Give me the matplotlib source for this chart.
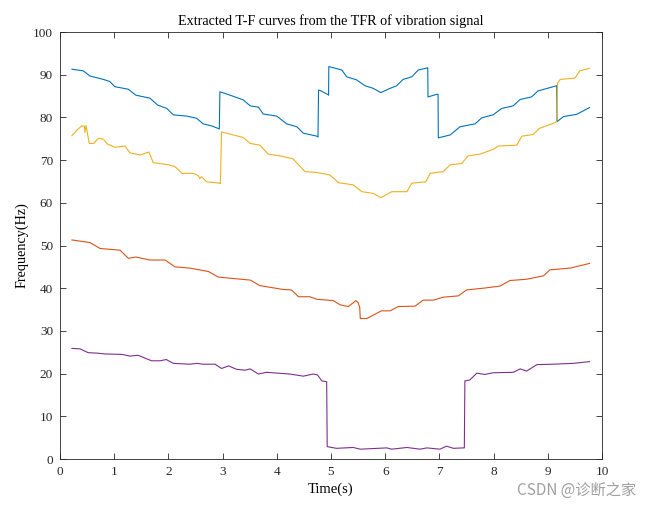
import matplotlib
matplotlib.use("Agg")
import matplotlib.pyplot as plt

# ---- data ----
blue_t = [0.22, 0.43, 0.55, 0.80, 0.92, 1.01, 1.26, 1.40, 1.66, 1.80, 1.97, 2.09, 2.34, 2.52, 2.64, 2.80, 2.94,
          2.95, 3.14, 3.38, 3.51, 3.66, 3.75, 4.00, 4.18, 4.37, 4.49, 4.74, 4.76,
          4.77, 4.80, 4.95, 4.955,
          4.96, 5.20, 5.29, 5.47, 5.63, 5.78, 5.92, 6.09, 6.21, 6.33, 6.49, 6.61, 6.78, 6.785,
          6.79, 6.95, 6.975,
          6.98, 7.20, 7.38, 7.66, 7.78, 7.99, 8.15, 8.36, 8.49, 8.70, 8.82, 9.16, 9.165,
          9.17, 9.29, 9.53, 9.77]
blue_f = [91.3, 90.9, 89.7, 88.9, 88.4, 87.2, 86.6, 85.2, 84.5, 82.9, 82.1, 80.6, 80.3, 79.8, 78.5, 78.0, 77.3,
          86.0, 85.2, 84.1, 82.7, 82.4, 80.8, 80.3, 78.5, 77.8, 76.3, 75.6, 75.4,
          86.4, 86.3, 85.3, 85.2,
          91.9, 91.1, 89.5, 88.8, 87.4, 86.8, 85.8, 86.8, 87.4, 88.9, 89.5, 91.1, 91.6, 91.6,
          84.8, 85.4, 85.4,
          75.2, 75.9, 77.8, 78.5, 79.9, 80.6, 82.1, 82.7, 84.2, 84.8, 86.2, 87.4, 87.4,
          79.0, 80.2, 80.7, 82.3]

yellow_t = [0.22, 0.31, 0.40, 0.45, 0.46, 0.48, 0.54, 0.62, 0.71, 0.80, 0.87, 1.01, 1.20, 1.29, 1.48, 1.64,
            1.72, 2.00, 2.12, 2.25, 2.46, 2.55, 2.58, 2.61, 2.71, 2.95, 2.96,
            2.98, 3.38, 3.51, 3.69, 3.84, 4.06, 4.30, 4.52, 4.74, 4.98, 5.14, 5.41, 5.57, 5.78, 5.92,
            6.12, 6.40, 6.49, 6.75, 6.83, 7.07, 7.20, 7.41, 7.53, 7.75, 7.99, 8.09, 8.43, 8.52, 8.73,
            8.84, 9.10, 9.165,
            9.18, 9.23, 9.50, 9.59, 9.77]
yellow_f = [75.7, 77.0, 78.0, 78.0, 76.5, 78.1, 73.9, 73.9, 75.1, 74.9, 73.8, 73.0, 73.3, 71.7, 71.2, 71.9,
            69.4, 68.9, 68.5, 66.9, 66.9, 66.4, 65.7, 66.1, 64.9, 64.6, 64.5,
            76.6, 75.3, 73.9, 73.5, 71.4, 71.0, 70.3, 67.3, 67.1, 66.5, 64.7, 64.2, 62.6, 62.2, 61.2,
            62.6, 62.6, 64.6, 64.9, 66.9, 67.3, 68.9, 69.2, 71.0, 71.4, 72.5, 73.3, 73.5, 75.6, 76.0,
            77.4, 78.6, 79.0,
            88.0, 88.9, 89.2, 90.9, 91.5]

red_t = [0.22, 0.55, 0.74, 1.11, 1.26, 1.40, 1.51, 1.66, 1.94, 2.12, 2.40, 2.74, 2.92, 3.17, 3.51, 3.69,
         4.12, 4.27, 4.40, 4.61, 4.74, 5.04, 5.17, 5.32, 5.46, 5.50, 5.53, 5.54, 5.66, 5.84, 5.93,
         6.09, 6.24, 6.55, 6.70, 6.89, 7.07, 7.35, 7.50, 7.81, 8.12, 8.30, 8.61, 8.92, 9.04, 9.41, 9.77]
red_f = [51.3, 50.7, 49.3, 48.9, 47.0, 47.3, 47.0, 46.6, 46.6, 45.0, 44.7, 43.9, 42.6, 42.3, 41.9, 40.6,
         39.7, 39.6, 38.0, 38.0, 37.4, 37.1, 36.1, 35.7, 37.1, 36.6, 35.5, 32.9, 32.9, 34.1, 34.7,
         34.7, 35.7, 35.8, 37.2, 37.2, 37.9, 38.2, 39.6, 40.0, 40.5, 41.8, 42.1, 42.9, 44.3, 44.7, 45.8]

purple_t = [0.22, 0.37, 0.52, 0.68, 0.83, 1.14, 1.29, 1.44, 1.69, 1.85, 1.96, 2.09, 2.40, 2.52, 2.64,
            2.86, 2.98, 3.11, 3.26, 3.41, 3.51, 3.66, 3.81, 4.24, 4.49, 4.67, 4.75, 4.83, 4.92, 4.93,
            5.10, 5.41, 5.54, 6.03, 6.12, 6.40, 6.64, 6.77, 7.01, 7.13, 7.26, 7.44, 7.46,
            7.47, 7.56, 7.69, 7.84, 7.99, 8.36, 8.49, 8.61, 8.80, 9.10, 9.47, 9.77]
purple_f = [25.9, 25.8, 24.9, 24.8, 24.6, 24.5, 24.1, 24.3, 23.0, 23.0, 23.3, 22.4, 22.2, 22.4, 22.2,
            22.2, 21.2, 21.8, 21.0, 20.8, 21.1, 19.9, 20.3, 19.9, 19.4, 19.9, 19.7, 18.3, 18.1, 2.9,
            2.5, 2.7, 2.3, 2.6, 2.3, 2.7, 2.3, 2.6, 2.3, 3.0, 2.5, 2.6, 2.6,
            18.3, 18.5, 20.1, 19.8, 20.2, 20.3, 21.1, 20.6, 22.1, 22.2, 22.4, 22.8]

xticks = list(range(0, 11))
yticks = list(range(0, 101, 10))

title_text = "Extracted T-F curves from the TFR of vibration signal"
xlabel_text = "Time(s)"
ylabel_text = "Frequency(Hz)"
watermark = "CSDN @诊断之家"

# ---- figure ----
plt.rcParams['font.family'] = ['Liberation Serif', 'DejaVu Serif']
fig = plt.figure(figsize=(6.45, 5.08), dpi=100)
ax = fig.add_axes([60/645, 49/508, 542/645, 427/508])

lw = 0.8
ax.plot(blue_t, blue_f, color='#0072BD', lw=lw)
ax.plot(red_t, red_f, color='#D95319', lw=lw)
ax.plot(yellow_t, yellow_f, color='#EDB120', lw=lw)
ax.plot(purple_t, purple_f, color='#7E2F8E', lw=lw)

ax.set_xlim(0, 10)
ax.set_ylim(0, 100)
ax.set_xticks(xticks)
ax.set_yticks(yticks)
ax.tick_params(direction='in', length=4, width=0.6, top=True, right=True,
               labelsize=9.5, colors='#262626', pad=5)
for s in ax.spines.values():
    s.set_linewidth(0.6)
    s.set_color('#262626')

ax.set_title(title_text, fontsize=10.2, color='black', pad=5)
ax.set_xlabel(xlabel_text, fontsize=10.5, labelpad=3)
ax.set_ylabel(ylabel_text, fontsize=10.2, labelpad=3)

fig.text(0.987, 0.018, watermark, ha='right', va='bottom', fontsize=11, color='#A0A0A0',
         family=['Noto Sans CJK SC', 'DejaVu Sans'])

fig.savefig('out.png', dpi=100)
